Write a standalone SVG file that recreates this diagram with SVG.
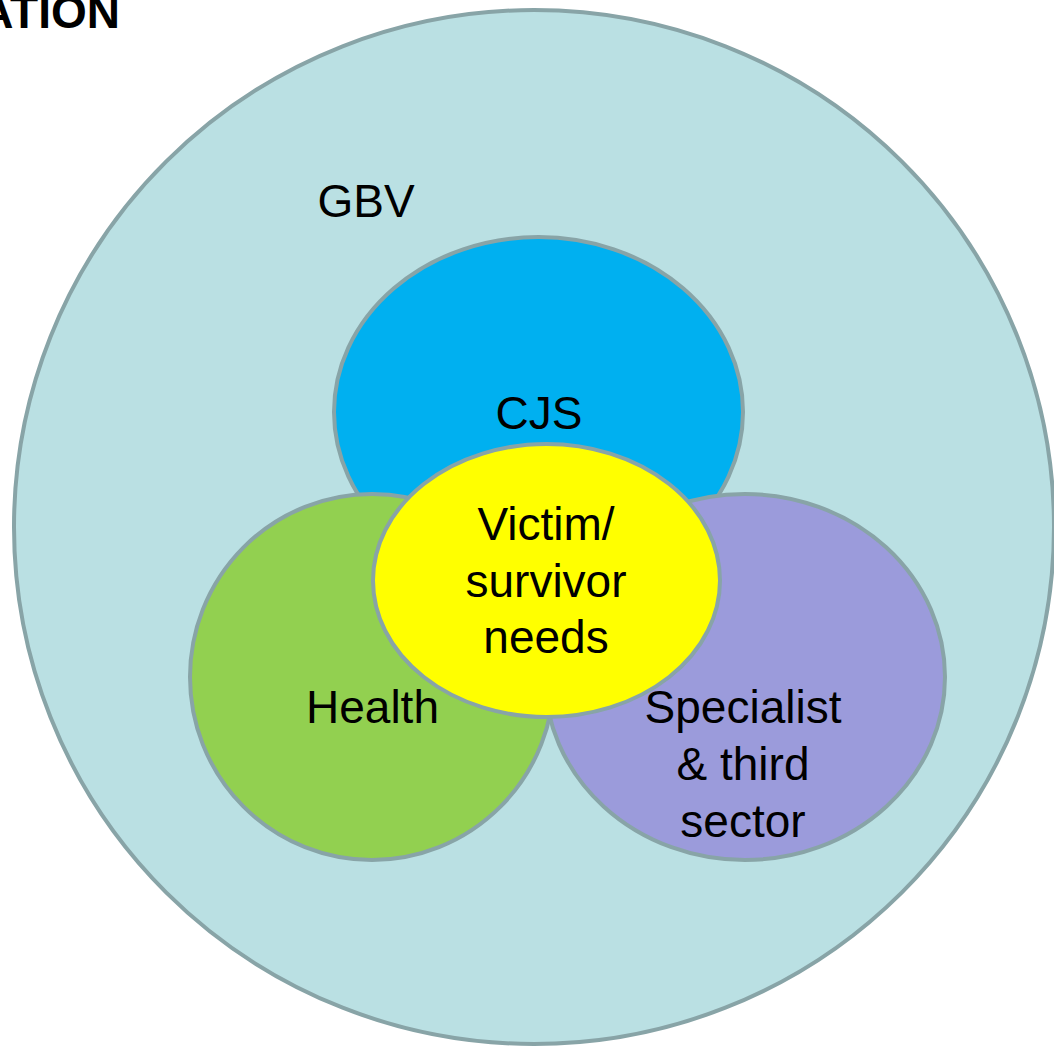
<svg xmlns="http://www.w3.org/2000/svg" width="1054" height="1047" viewBox="0 0 1054 1047">
<style>
.shape{stroke:#88A4A7;stroke-width:4}
.lbl{font-family:"Liberation Sans",Arial,sans-serif;font-size:46px;fill:#000;text-anchor:middle}
</style>
<rect width="1054" height="1047" fill="#FFFFFF"/>
<text x="120" y="28" style="font-family:'Liberation Sans',Arial,sans-serif;font-size:46px;font-weight:bold;text-anchor:end" fill="#000">ATION</text>
<g id="gbv">
<ellipse class="shape" cx="534" cy="527" rx="520" ry="517" fill="#BAE0E3"/>
<text class="lbl" x="366" y="217">GBV</text>
</g>
<g id="cjs">
<ellipse class="shape" cx="538.5" cy="412" rx="204.5" ry="175" fill="#00B0F0"/>
<text class="lbl" x="539" y="429">CJS</text>
</g>
<g id="specialist">
<ellipse class="shape" cx="745" cy="677" rx="200" ry="183" fill="#9B9BDB"/>
<text class="lbl" x="743" y="723">Specialist</text>
<text class="lbl" x="743" y="780">&amp; third</text>
<text class="lbl" x="743" y="837">sector</text>
</g>
<g id="health">
<ellipse class="shape" cx="372" cy="677" rx="182" ry="183" fill="#92D050"/>
<text class="lbl" x="372.5" y="723">Health</text>
</g>
<g id="victim">
<ellipse class="shape" cx="546.5" cy="580.5" rx="173.5" ry="136.5" fill="#FFFF00"/>
<text class="lbl" x="546" y="540">Victim/</text>
<text class="lbl" x="546" y="597">survivor</text>
<text class="lbl" x="546" y="653">needs</text>
</g>
<g id="connectors"></g>
</svg>
